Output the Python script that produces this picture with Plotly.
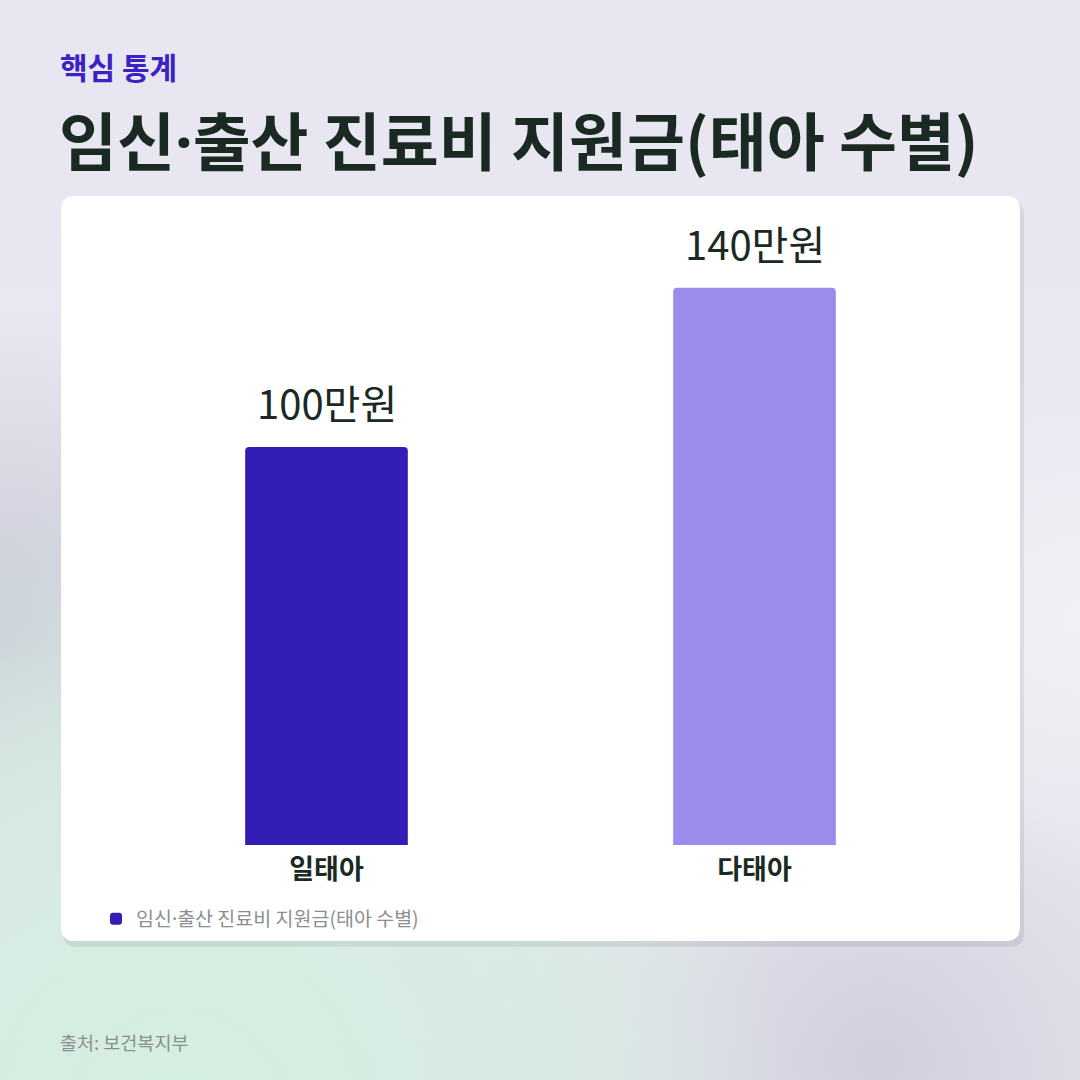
import base64
import plotly.graph_objects as go

# ---- data ----
categories = ["일태아", "다태아"]
values = [100, 140]
value_labels = ["100만원", "140만원"]
bar_colors = ["#321EB4", "#9B8CEB"]
series_name = "임신·출산 진료비 지원금(태아 수별)"
kicker = "핵심 통계"
title = "임신·출산 진료비 지원금(태아 수별)"
source = "출처: 보건복지부"

FONT = "Noto Sans CJK KR, Noto Sans, sans-serif"
W = H = 1080


def narrow_dot(s):
    # render the middle dot with a Latin font so it stays narrow
    return s.replace("·", "<span style='font-family:Noto Sans'>·</span>")


def px_x(p):
    return p / W


def px_y(p):
    return 1 - p / H


svg = f"""<svg xmlns='http://www.w3.org/2000/svg' width='{W}' height='{H}' viewBox='0 0 {W} {H}'>
<defs>
<linearGradient id='b' x1='0' y1='0' x2='0' y2='1'>
<stop offset='0' stop-color='#E8E6F1'/><stop offset='0.55' stop-color='#E9E8F1'/><stop offset='1' stop-color='#E2E2EA'/>
</linearGradient>
<radialGradient id='g' cx='180' cy='1120' r='620' gradientUnits='userSpaceOnUse'>
<stop offset='0' stop-color='#D4EFDF' stop-opacity='1'/><stop offset='0.6' stop-color='#D6ECE2' stop-opacity='0.8'/><stop offset='1' stop-color='#D6ECE2' stop-opacity='0'/>
</radialGradient>
<radialGradient id='l' cx='0' cy='640' r='330' gradientUnits='userSpaceOnUse'>
<stop offset='0' stop-color='#C3C6D2' stop-opacity='0.9'/><stop offset='1' stop-color='#C3C6D2' stop-opacity='0'/>
</radialGradient>
<radialGradient id='r' cx='880' cy='1060' r='300' gradientUnits='userSpaceOnUse'>
<stop offset='0' stop-color='#CFCDDD' stop-opacity='0.9'/><stop offset='1' stop-color='#CFCDDD' stop-opacity='0'/>
</radialGradient>
<radialGradient id='w' cx='1080' cy='620' r='260' gradientUnits='userSpaceOnUse'>
<stop offset='0' stop-color='#F2F1F6' stop-opacity='0.9'/><stop offset='1' stop-color='#F2F1F6' stop-opacity='0'/>
</radialGradient>
</defs>
<rect width='{W}' height='{H}' fill='url(#b)'/>
<rect width='{W}' height='{H}' fill='url(#l)'/>
<rect width='{W}' height='{H}' fill='url(#w)'/>
<rect width='{W}' height='{H}' fill='url(#r)'/>
<rect width='{W}' height='{H}' fill='url(#g)'/>
</svg>"""
bg_src = "data:image/svg+xml;base64," + base64.b64encode(svg.encode()).decode()


def rounded_rect(x0, y0, x1, y1, r):
    X = lambda v: f"{px_x(v):.5f}"
    Y = lambda v: f"{px_y(v):.5f}"
    return (f"M {X(x0+r)},{Y(y0)} L {X(x1-r)},{Y(y0)} Q {X(x1)},{Y(y0)} {X(x1)},{Y(y0+r)} "
            f"L {X(x1)},{Y(y1-r)} Q {X(x1)},{Y(y1)} {X(x1-r)},{Y(y1)} "
            f"L {X(x0+r)},{Y(y1)} Q {X(x0)},{Y(y1)} {X(x0)},{Y(y1-r)} "
            f"L {X(x0)},{Y(y0+r)} Q {X(x0)},{Y(y0)} {X(x0+r)},{Y(y0)} Z")


fig = go.Figure()
fig.add_trace(go.Bar(
    x=categories, y=values, name=narrow_dot(series_name),
    marker=dict(color=bar_colors, line=dict(width=0)),
    width=0.38, showlegend=True,
    hoverinfo="skip",
))

for c, v, t in zip(categories, values, value_labels):
    fig.add_annotation(x=c, y=v, text=t, showarrow=False, yanchor="bottom", yshift=14,
                       font=dict(family=FONT, size=40, color="#1A2A22"))

fig.add_annotation(xref="paper", yref="paper", x=px_x(58), y=px_y(66), text=kicker,
                   showarrow=False, xanchor="left", yanchor="middle",
                   font=dict(family=FONT, size=30, color="#3A22C4", weight="bold"))
fig.add_annotation(xref="paper", yref="paper", x=px_x(57), y=px_y(137), text=narrow_dot(title),
                   showarrow=False, xanchor="left", yanchor="middle",
                   font=dict(family=FONT, size=63, color="#1A2A22", weight="bold"))
fig.add_annotation(xref="paper", yref="paper", x=px_x(58), y=px_y(1042), text=source,
                   showarrow=False, xanchor="left", yanchor="middle",
                   font=dict(family=FONT, size=18.5, color="#8A908D"))

shapes = [
    dict(type="path", xref="paper", yref="paper", layer="below",
         path=rounded_rect(63, 201, 1024, 947, 14), fillcolor="rgba(60,70,90,0.10)", line=dict(width=0)),
    dict(type="path", xref="paper", yref="paper", layer="below",
         path=rounded_rect(61, 196, 1020, 941, 14), fillcolor="#FFFFFF", line=dict(width=0)),
]

fig.update_layout(
    width=W, height=H,
    margin=dict(l=0, r=0, t=0, b=0),
    paper_bgcolor="#E8E6F1", plot_bgcolor="rgba(0,0,0,0)",
    images=[dict(source=bg_src, xref="paper", yref="paper", x=0, y=1, sizex=1, sizey=1,
                 sizing="stretch", layer="below", xanchor="left", yanchor="top")],
    shapes=shapes,
    barcornerradius=4,
    font=dict(family=FONT),
    hovermode=False,
    xaxis=dict(domain=[px_x(112.5), px_x(968.5)], range=[-0.5, 1.5], showgrid=False,
               zeroline=False, showline=False, ticks="", ticklabelstandoff=6, fixedrange=True,
               tickfont=dict(family=FONT, size=27, color="#1A2A22", weight="bold")),
    yaxis=dict(domain=[px_y(845), px_y(220)], range=[0, 157], visible=False, fixedrange=True),
    showlegend=True,
    legend=dict(x=px_x(96), y=px_y(919), xanchor="left", yanchor="middle", orientation="h",
                bgcolor="rgba(0,0,0,0)", borderwidth=0,
                font=dict(family=FONT, size=19.5, color="#8A908D"), itemwidth=30),
)

fig.write_html("out.html", config={"displayModeBar": False},
               post_script="document.body.style.margin='0';document.body.style.overflow='hidden';")
